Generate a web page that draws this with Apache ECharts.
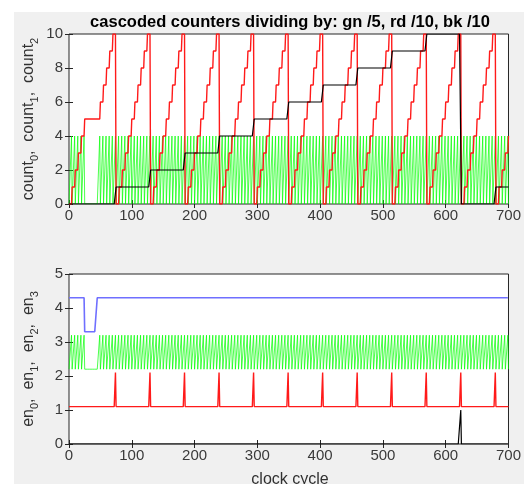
<!DOCTYPE html>
<html><head><meta charset="utf-8">
<script src="https://cdn.jsdelivr.net/npm/echarts@6/dist/echarts.min.js"></script>
<style>
html,body{margin:0;padding:0;background:#fff;}
#bg{position:absolute;left:14px;top:12px;width:510px;height:472px;background:#f0f0f0;}
#c{position:absolute;left:0;top:0;width:524px;height:484px;}
</style></head>
<body><div id="bg"></div><div id="c"></div>
<script>
// ---------- data ----------
const titleText = 'cascoded counters dividing by: gn /5, rd /10, bk /10';
const xTicks = [0, 100, 200, 300, 400, 500, 600, 700];
const topYTicks = [0, 2, 4, 6, 8, 10];
const botYTicks = [0, 1, 2, 3, 4, 5];

// count0 (green), one digit per clock cycle 0..700
const count0 = [
  '0123401234012340123401234',
  '00000000000000000000',
  '01234012340123401234012340123401234012340123401234',
  '01234012340123401234012340123401234012340123401234',
  '01234012340123401234012340123401234012340123401234',
  '01234012340123401234012340123401234012340123401234',
  '01234012340123401234012340123401234012340123401234',
  '01234012340123401234012340123401234012340123401234',
  '01234012340123401234012340123401234012340123401234',
  '01234012340123401234012340123401234012340123401234',
  '01234012340123401234012340123401234012340123401234',
  '01234012340123401234012340123401234012340123401234',
  '01234012340123401234012340123401234012340123401234',
  '01234012340123401234012340123401234012340123401234',
  '01234012340123401234012340123401234012340123401234',
  '01234',
  '0'
].join('');

// count1 (red), one hex digit per clock cycle (a = 10)
const count1 = [
  '0000011111222223333344444',
  '5555555555555555555555555',
  '66666777778888899999aaaaa',
  '00000111112222233333444445555566666777778888899999aaaaa',
  '00000111112222233333444445555566666777778888899999aaaaa',
  '00000111112222233333444445555566666777778888899999aaaaa',
  '00000111112222233333444445555566666777778888899999aaaaa',
  '00000111112222233333444445555566666777778888899999aaaaa',
  '00000111112222233333444445555566666777778888899999aaaaa',
  '00000111112222233333444445555566666777778888899999aaaaa',
  '00000111112222233333444445555566666777778888899999aaaaa',
  '00000111112222233333444445555566666777778888899999aaaaa',
  '00000111112222233333444445555566666777778888899999aaaaa',
  '00000111112222233333444445555566666777778888899999aaaaa',
  '000001111122222333334'
].join('');

// count2 (black): value changes
const count2Starts = [0, 75, 130, 185, 240, 295, 350, 405, 460, 515, 570, 625, 680];
const count2Values = [0, 1, 2, 3, 4, 5, 6, 7, 8, 9, 10, 0, 1];

// en0 (blue): runs
const en0Starts = [0, 25, 45];
const en0Values = [1, 0, 1];

// en1 (green): one digit per clock cycle
const en1 = [
  '0000100001000010000100001',
  '00000000000000000000',
  '00001000010000100001000010000100001000010000100001',
  '00001000010000100001000010000100001000010000100001',
  '00001000010000100001000010000100001000010000100001',
  '00001000010000100001000010000100001000010000100001',
  '00001000010000100001000010000100001000010000100001',
  '00001000010000100001000010000100001000010000100001',
  '00001000010000100001000010000100001000010000100001',
  '00001000010000100001000010000100001000010000100001',
  '00001000010000100001000010000100001000010000100001',
  '00001000010000100001000010000100001000010000100001',
  '00001000010000100001000010000100001000010000100001',
  '00001000010000100001000010000100001000010000100001',
  '00001000010000100001000010000100001000010000100001',
  '00001',
  '0'
].join('');

// en2 (red) and en3 (black): pulse times
const en2Pulses = [74, 129, 184, 239, 294, 349, 404, 459, 514, 569, 624, 679];
const en3Pulses = [624];

// vertical offsets used in the lower plot
const enOffsets = [3.3, 2.2, 1.1, 0];

// ---------- build series ----------
const N = 701;
function fromString(s) { return Array.from(s).map(ch => parseInt(ch, 16)); }
function fromRuns(starts, vals) {
  const out = [];
  for (let t = 0; t < N; t++) {
    let k = 0;
    for (let j = 0; j < starts.length; j++) if (starts[j] <= t) k = j;
    out.push(vals[k]);
  }
  return out;
}
function fromPulses(p) { const out = []; for (let t = 0; t < N; t++) out.push(p.indexOf(t) >= 0 ? 1 : 0); return out; }
const pts = (arr, off) => arr.map((v, i) => [i, v + (off || 0)]);

const c0 = fromString(count0), c1 = fromString(count1), c2 = fromRuns(count2Starts, count2Values);
const e0 = fromRuns(en0Starts, en0Values), e1 = fromString(en1), e2 = fromPulses(en2Pulses), e3 = fromPulses(en3Pulses);

const AX = '#262626', LBL = '#3a3a3a';
const FONT = 'Liberation Sans, Arial, Helvetica, sans-serif';
function xAx(grid, pos, showLabel) {
  return { type: 'value', gridIndex: grid, position: pos, min: 0, max: 700, interval: 100,
    axisLine: { show: false }, splitLine: { show: false },
    axisTick: { show: true, inside: true, length: 4, lineStyle: { color: AX } },
    axisLabel: { show: showLabel, margin: 4, color: LBL, fontSize: 15, fontFamily: FONT } };
}
function yAx(grid, pos, max, interval, showLabel) {
  return { type: 'value', gridIndex: grid, position: pos, min: 0, max: max, interval: interval,
    axisLine: { show: false }, splitLine: { show: false },
    axisTick: { show: true, inside: true, length: 4, lineStyle: { color: AX } },
    axisLabel: { show: showLabel, margin: 6, color: LBL, fontSize: 15, fontFamily: FONT } };
}
const line = (x, y, data, color, width, z) => ({ type: 'line', xAxisIndex: x, yAxisIndex: y, data: data,
  showSymbol: false, symbol: 'none', animation: false, z: z, silent: true,
  lineStyle: { color: color, width: width } });

const subLabel = (parts) => parts.map((p, i) => '{a|' + (i ? ',  ' : '') + p[0] + '}{s|' + p[1] + '}').join('');
const richStyle = { a: { fontSize: 16, fontFamily: FONT, fill: '#303030', color: '#303030', lineHeight: 22, verticalAlign: 'middle' },
                    s: { fontSize: 11, fontFamily: FONT, fill: '#303030', color: '#303030', lineHeight: 22, verticalAlign: 'bottom' } };

const option = {
  animation: false,
  grid: [
    { left: 69, top: 34, width: 442, height: 170, show: true, backgroundColor: '#fff', borderColor: AX, borderWidth: 1 },
    { left: 69, top: 274, width: 442, height: 170, show: true, backgroundColor: '#fff', borderColor: AX, borderWidth: 1 }
  ],
  xAxis: [xAx(0, 'bottom', true), xAx(0, 'top', false), xAx(1, 'bottom', true), xAx(1, 'top', false)],
  yAxis: [yAx(0, 'left', 10, 2, true), yAx(0, 'right', 10, 2, false), yAx(1, 'left', 5, 1, true), yAx(1, 'right', 5, 1, false)],
  series: [
    line(0, 0, pts(c0), '#00ff00', 0.7, 3),
    line(0, 0, pts(c1), '#ff1a1a', 1.4, 4),
    line(0, 0, pts(c2), '#000000', 1.2, 5),
    line(2, 2, pts(e3, enOffsets[3]), '#000000', 1.2, 5),
    line(2, 2, pts(e2, enOffsets[2]), '#ff1a1a', 1.4, 4),
    line(2, 2, pts(e1, enOffsets[1]), '#00ff00', 0.7, 3),
    line(2, 2, pts(e0, enOffsets[0]), '#6f6fff', 1.6, 4)
  ],
  graphic: [
    { type: 'text', x: 290, y: 22, style: { text: titleText, font: 'bold 16.5px ' + FONT, fill: '#000', align: 'center', verticalAlign: 'middle', textAlign: 'center', textVerticalAlign: 'middle' } },
    { type: 'text', x: 290, y: 480, style: { text: 'clock cycle', font: '16px ' + FONT, fill: '#303030', align: 'center', verticalAlign: 'middle', textAlign: 'center', textVerticalAlign: 'middle' } },
    { type: 'text', x: 29, y: 119, rotation: Math.PI / 2,
      style: { text: subLabel([['count', '0'], ['count', '1'], ['count', '2']]), rich: richStyle, align: 'center', verticalAlign: 'middle', textAlign: 'center', textVerticalAlign: 'middle' } },
    { type: 'text', x: 29, y: 359, rotation: Math.PI / 2,
      style: { text: subLabel([['en', '0'], ['en', '1'], ['en', '2'], ['en', '3']]), rich: richStyle, align: 'center', verticalAlign: 'middle', textAlign: 'center', textVerticalAlign: 'middle' } }
  ]
};
const chart = echarts.init(document.getElementById('c'), null, { renderer: 'canvas' });
chart.setOption(option);
</script>
</body></html>
